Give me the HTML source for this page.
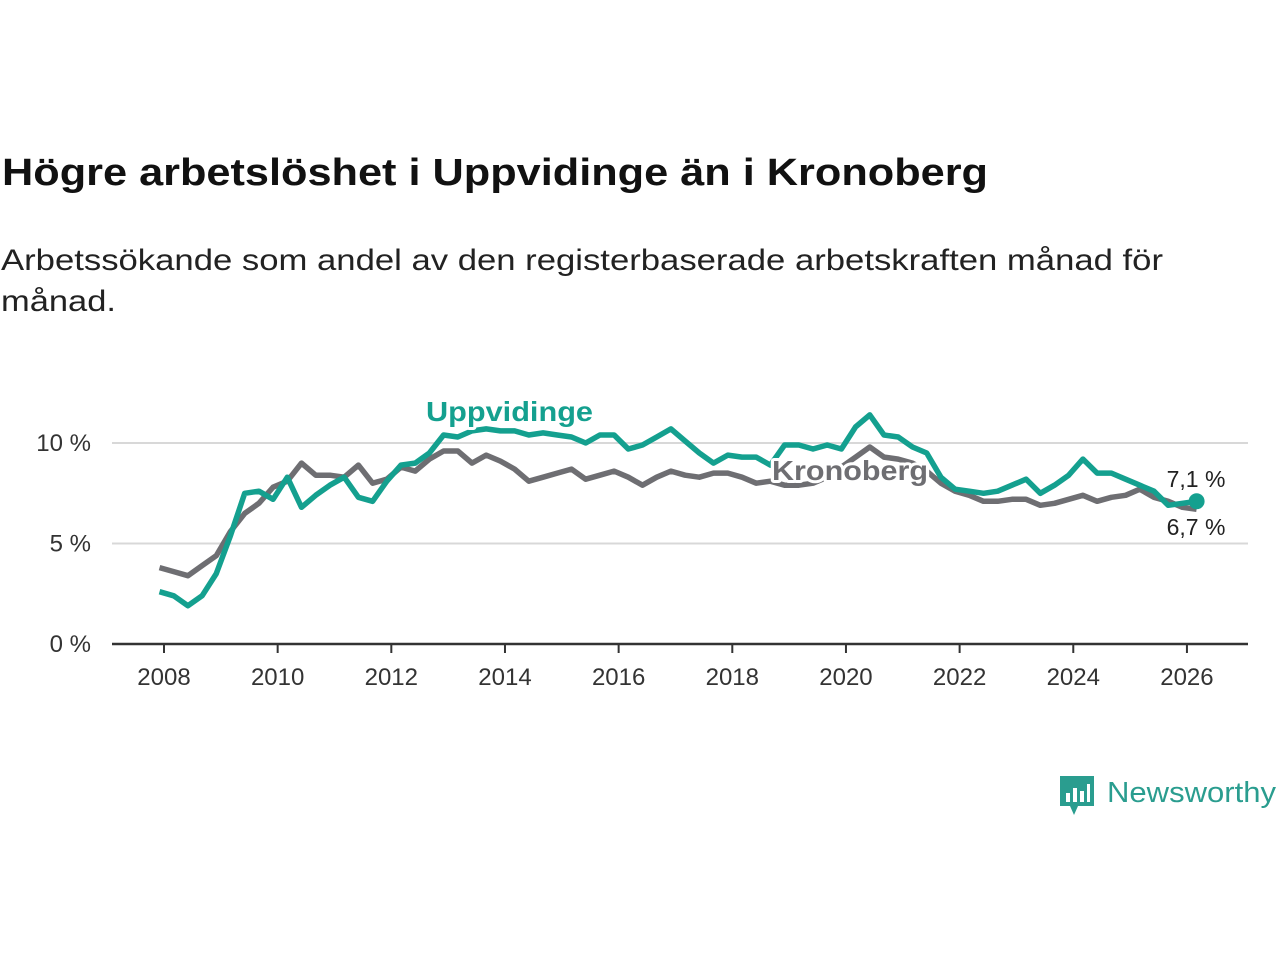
<!DOCTYPE html>
<html><head><meta charset="utf-8"><style>
html,body{margin:0;padding:0;background:#fff;}
svg{display:block;font-family:"Liberation Sans",sans-serif;}
.halo{paint-order:stroke;stroke:#fff;stroke-width:6px;stroke-linejoin:round;}
</style></head><body>
<svg id="chart" width="1280" height="960" viewBox="0 0 1280 960">
<text x="2" y="185" font-size="38" font-weight="bold" fill="#111" textLength="986" lengthAdjust="spacingAndGlyphs">Högre arbetslöshet i Uppvidinge än i Kronoberg</text>
<text x="1" y="270" font-size="30" fill="#222" textLength="1162" lengthAdjust="spacingAndGlyphs">Arbetssökande som andel av den registerbaserade arbetskraften månad för</text>
<text x="1" y="311" font-size="30" fill="#222" textLength="115" lengthAdjust="spacingAndGlyphs">månad.</text>
<g id="grid"></g><g id="axis"></g><g id="series"></g><g id="labels"></g>
<g>
<path d="M1060 776 h34 v30 h-16 l-4 9 l-4 -9 h-10 z" fill="#2a9d8f"/>
<rect x="1066" y="793" width="4" height="9" fill="#fff"/><rect x="1073" y="788" width="4" height="14" fill="#fff"/><rect x="1080" y="791" width="4" height="11" fill="#fff"/><rect x="1087" y="784" width="3" height="18" fill="#fff"/>
<text x="1107" y="802" font-size="29" fill="#2a9d8f" textLength="169" lengthAdjust="spacingAndGlyphs">Newsworthy</text>
</g>
</svg>
<script>
const years=[2008,2010,2012,2014,2016,2018,2020,2022,2024,2026];
const yTicks=[0,5,10];
const tStart=2007.92;
const tStep=0.25;
const kronoberg=[3.8,3.6,3.4,3.9,4.4,5.6,6.5,7.0,7.8,8.1,9.0,8.4,8.4,8.3,8.9,8.0,8.2,8.8,8.6,9.2,9.6,9.6,9.0,9.4,9.1,8.7,8.1,8.3,8.5,8.7,8.2,8.4,8.6,8.3,7.9,8.3,8.6,8.4,8.3,8.5,8.5,8.3,8.0,8.1,7.9,7.9,8.0,8.3,8.8,9.3,9.8,9.3,9.2,9.0,8.6,8.0,7.6,7.4,7.1,7.1,7.2,7.2,6.9,7.0,7.2,7.4,7.1,7.3,7.4,7.7,7.3,7.1,6.8,6.7];
const uppvidinge=[2.6,2.4,1.9,2.4,3.5,5.4,7.5,7.6,7.2,8.3,6.8,7.4,7.9,8.3,7.3,7.1,8.1,8.9,9.0,9.5,10.4,10.3,10.6,10.7,10.6,10.6,10.4,10.5,10.4,10.3,10.0,10.4,10.4,9.7,9.9,10.3,10.7,10.1,9.5,9.0,9.4,9.3,9.3,8.9,9.9,9.9,9.7,9.9,9.7,10.8,11.4,10.4,10.3,9.8,9.5,8.3,7.7,7.6,7.5,7.6,7.9,8.2,7.5,7.9,8.4,9.2,8.5,8.5,8.2,7.9,7.6,6.9,7.0,7.1];
const x=t=>164+(t-2008)*56.83;
const y=v=>644-v*20.1;
const NS="http://www.w3.org/2000/svg";
function mk(tag,parent,attrs){const e=document.createElementNS(NS,tag);for(const k in attrs)e.setAttribute(k,attrs[k]);document.getElementById(parent).appendChild(e);return e;}
yTicks.forEach(v=>{
 if(v>0){const g=mk('line','grid',{x1:112,x2:1248,y1:y(v),y2:y(v),stroke:'#d8d8d8','stroke-width':2});
 
 }
 const t=mk('text','axis',{x:91,y:y(v)+8,'font-size':24,fill:'#333','text-anchor':'end'});
 t.textContent=v+' %';
 
 
});
const ax=mk('line','axis',{x1:112,x2:1248,y1:644,y2:644,stroke:'#333','stroke-width':2.5});


years.forEach(yr=>{
 const tk=mk('line','axis',{x1:x(yr),x2:x(yr),y1:644,y2:653,stroke:'#333','stroke-width':2});
 
 
 const t=mk('text','axis',{x:x(yr),y:685,'font-size':24,fill:'#333','text-anchor':'middle'});
 t.textContent=yr;
 
 
});
function pts(arr){return arr.map((v,i)=>x(tStart+i*tStep).toFixed(1)+','+y(v).toFixed(1)).join(' ');}
const lk=mk('polyline','series',{points:pts(kronoberg),fill:'none',stroke:'#6e6e72','stroke-width':5.5,'stroke-linejoin':'round'});


const lu=mk('polyline','series',{points:pts(uppvidinge),fill:'none',stroke:'#14a08f','stroke-width':5.5,'stroke-linejoin':'round'});


const lastT=tStart+(uppvidinge.length-1)*tStep;
const dot=mk('circle','series',{cx:x(lastT),cy:y(uppvidinge[uppvidinge.length-1]),r:8,fill:'#14a08f'});


const l1=mk('text','labels',{x:426,y:421,'font-size':28,'font-weight':'bold',fill:'#14a08f',class:'halo',textLength:167,lengthAdjust:'spacingAndGlyphs'});
l1.textContent='Uppvidinge';


const l2=mk('text','labels',{x:772,y:480,'font-size':28,'font-weight':'bold',fill:'#6e6e72',class:'halo',textLength:156,lengthAdjust:'spacingAndGlyphs'});
l2.textContent='Kronoberg';


const v1=mk('text','labels',{x:1196,y:487,'font-size':23,fill:'#222','text-anchor':'middle',class:'halo'});
v1.textContent=String(uppvidinge[uppvidinge.length-1]).replace('.',',')+' %';


const v2=mk('text','labels',{x:1196,y:535,'font-size':23,fill:'#222','text-anchor':'middle',class:'halo'});
v2.textContent=String(kronoberg[kronoberg.length-1]).replace('.',',')+' %';


</script>
</body></html>
